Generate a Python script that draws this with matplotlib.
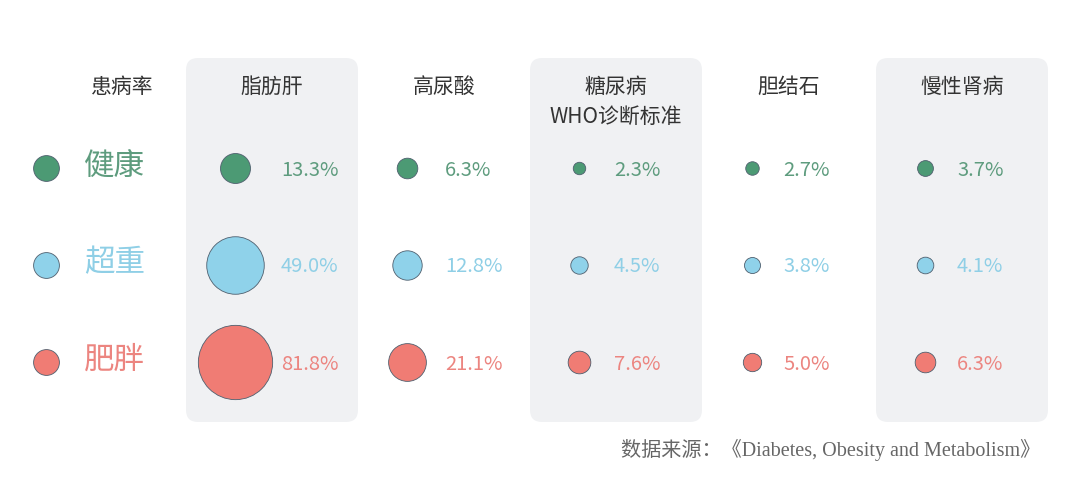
import matplotlib.pyplot as plt
from matplotlib.patches import FancyBboxPatch

plt.rcParams['font.family'] = ['Noto Sans CJK SC', 'DejaVu Sans']

# data
diseases = ['脂肪肝', '高尿酸', '糖尿病\nWHO诊断标准', '胆结石', '慢性肾病']
groups = ['健康', '超重', '肥胖']
healthy = [13.3, 6.3, 2.3, 2.7, 3.7]
overweight = [49.0, 12.8, 4.5, 3.8, 4.1]
obese = [81.8, 21.1, 7.6, 5.0, 6.3]

# layout (pixel coords, figure is 1080x479)
col_x = [272, 444, 616, 789, 962]
txt_x = [281, 445, 614, 783, 957]
row_y = [168, 265, 362]
fills = ['#4c9a74', '#8fd2ea', '#f07c74']
txt_colors = ['#5e9c7e', '#8fcfe6', '#ec8580']
edge = '#4f5f6e'
k = 35  # scatter area per percent

fig = plt.figure(figsize=(10.8, 4.79), dpi=100)
ax = fig.add_axes([0, 0, 1, 1])
ax.set_xlim(0, 1080)
ax.set_ylim(479, 0)
ax.axis('off')

# gray panels behind every other column
for i in [0, 2, 4]:
    p = FancyBboxPatch((col_x[i] - 86 + 12, 58 + 12), 172 - 24, 364 - 24,
                       boxstyle='round,pad=12', fc='#f0f1f3', ec='none', zorder=0)
    ax.add_patch(p)

# legend column
ax.text(122, 87, '患病率', ha='center', va='center', fontsize=15, color='#333333')
for j, g in enumerate(groups):
    ax.scatter(46, row_y[j], s=345, color=fills[j], edgecolor=edge, linewidth=0.6, zorder=3)
    ax.text(84, row_y[j] - 2, g, ha='left', va='center', fontsize=22, color=txt_colors[j])

series = [healthy, overweight, obese]
for i, d in enumerate(diseases):
    if '\n' in d:
        top, bottom = d.split('\n')
        ax.text(col_x[i], 87, top, ha='center', va='center', fontsize=15, color='#333333')
        ax.text(col_x[i], 117, bottom, ha='center', va='center', fontsize=15, color='#333333')
    else:
        ax.text(col_x[i], 87, d, ha='center', va='center', fontsize=15, color='#333333')
    for j, vals in enumerate(series):
        ax.scatter(col_x[i] - 37, row_y[j], s=vals[i] * k, color=fills[j],
                   edgecolor=edge, linewidth=0.6, zorder=3)
        ax.text(txt_x[i], row_y[j] + 2, f'{vals[i]:.1f}%', ha='left', va='center',
                fontsize=14.5, color=txt_colors[j])

ax.text(1040, 450, '数据来源：《Diabetes, Obesity and Metabolism》', ha='right', va='center',
        fontsize=14.5, color='#666666', family=['Liberation Serif', 'Noto Sans CJK SC'])

fig.savefig('out.png', dpi=100, facecolor='white')
